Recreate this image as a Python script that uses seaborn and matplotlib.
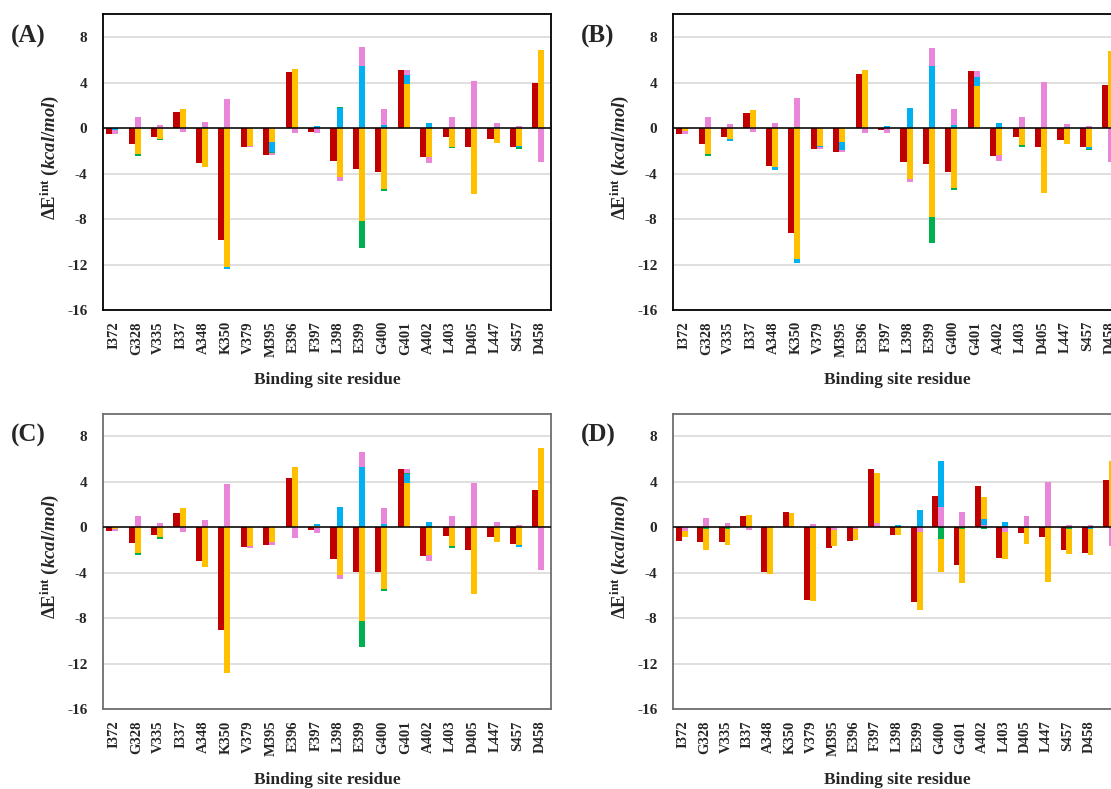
import numpy as np
import matplotlib
matplotlib.use("Agg")
import matplotlib.pyplot as plt
import seaborn as sns

# residues on the x axis
residues = ["I372", "G328", "V335", "I337", "A348", "K350", "V379", "M395", "E396", "F397",
            "L398", "E399", "G400", "G401", "A402", "L403", "D405", "L447", "S457", "D458"]

# panel A: total and components (kcal/mol)
a_total = [-0.5, -1.38, -0.76, 1.41, -3.05, -9.85, -1.7, -2.35, 4.93, -0.32,
           -2.93, -3.58, -3.9, 5.07, -2.58, -0.76, -1.7, -1.0, -1.7, 3.93]
a_yellow = [0, -2.26, -0.94, 1.67, -3.46, -12.26, -1.55, -1.2, 5.16, 0,
            -4.34, -8.15, -5.34, 3.84, -2.52, -1.64, -5.8, -1.35, -1.55, 6.89]
a_blue = [-0.2, 0, 0, 0, 0.1, -0.14, 0, -0.94, 0, 0.2,
          1.73, 5.43, 0.26, 0.82, 0.44, 0, 0, 0.1, -0.15, 0]
a_green = [0, -0.17, -0.14, 0, 0, 0, 0, -0.06, 0, 0,
           0.12, -2.41, -0.23, 0, 0, -0.15, 0, 0, -0.18, 0]
a_pink = [-0.3, 0.97, 0.26, -0.32, 0.43, 2.55, -0.15, -0.15, -0.41, -0.41,
          -0.35, 1.67, 1.41, 0.41, -0.53, 0.97, 4.13, 0.34, 0.18, -3.02]

# panel B
b_total = [-0.5, -1.38, -0.76, 1.32, -3.37, -9.24, -1.82, -2.08, 4.72, -0.2,
           -3.02, -3.2, -3.9, 5.01, -2.49, -0.76, -1.7, -1.03, -1.7, 3.78]
b_yellow = [-0.23, -2.26, -0.97, 1.58, -3.4, -11.52, -1.55, -1.2, 5.07, 0,
            -4.46, -7.83, -5.28, 3.72, -2.4, -1.52, -5.72, -1.44, -1.64, 6.74]
b_blue = [0, 0, -0.14, 0, -0.32, -0.33, -0.12, -0.7, 0, 0.18,
          1.76, 5.43, 0.29, 0.74, 0.47, 0, 0, 0.1, -0.18, 0]
b_green = [0, -0.17, 0, 0, 0, 0.1, 0, 0, 0, 0,
           0, -2.27, -0.2, 0.06, 0, -0.18, 0, 0, -0.14, 0]
b_pink = [-0.27, 0.97, 0.35, -0.32, 0.44, 2.51, -0.21, -0.18, -0.41, -0.41,
          -0.32, 1.57, 1.41, 0.49, -0.53, 0.97, 4.02, 0.25, 0.18, -3.02]

# panel C
c_total = [-0.32, -1.38, -0.67, 1.29, -2.96, -9.0, -1.76, -1.55, 4.37, -0.23,
           -2.79, -3.93, -3.93, 5.16, -2.49, -0.76, -1.99, -0.85, -1.47, 3.31]
c_yellow = [-0.1, -2.29, -0.88, 1.73, -3.46, -12.82, -1.61, -1.32, 5.34, 0.15,
            -4.22, -8.27, -5.37, 3.87, -2.43, -1.67, -5.89, -1.32, -1.58, 6.98]
c_blue = [0, 0, 0, 0, 0, 0, 0, 0, 0, 0.17,
          1.82, 5.34, 0.26, 0.79, 0.44, 0, 0, 0.08, -0.12, 0]
c_green = [0, -0.14, -0.15, 0, 0, 0, -0.06, 0, 0, 0,
           0, -2.2, -0.2, 0.09, 0, -0.15, 0, 0, 0, 0]
c_pink = [-0.22, 0.97, 0.35, -0.44, 0.62, 3.81, -0.18, -0.23, -0.94, -0.5,
          -0.3, 1.32, 1.41, 0.41, -0.53, 0.97, 3.93, 0.42, 0.23, -3.72]

# panel D (21 groups, last one has no visible label)
d_labels = residues + [""]
d_total = [-1.2, -1.29, -1.29, 0.97, -3.93, 1.32, -6.36, -1.82, -1.2, 5.16,
           -0.67, -6.6, 2.79, -3.28, 3.67, -2.73, -0.5, -0.85, -1.99, -2.23, 4.19]
d_yellow = [-0.56, -1.89, -1.45, 1.11, -4.08, 1.29, -6.43, -1.47, -1.0, 4.46,
            -0.67, -6.89, -2.9, -4.77, 1.94, -2.38, -1.38, -4.78, -2.22, -2.33, 5.87]
d_blue = [0, 0, 0, 0, 0, 0, -0.08, 0, 0, 0,
          0.18, 1.5, 4.11, 0, 0.53, 0.44, -0.06, 0, 0, -0.1, 0]
d_green = [0, -0.1, -0.1, 0, 0, 0, 0, 0, 0, 0,
           0, 0, -1.03, -0.1, -0.15, 0, 0, 0, -0.1, 0, 0]
d_pink = [-0.29, 0.79, 0.35, -0.23, 0.12, 0, 0.26, -0.2, -0.1, 0.35,
          0, -0.41, 1.76, 1.38, 0.23, -0.41, 0.97, 4.02, 0.18, 0.23, -1.61]

RED = "#C00000"
YELLOW = "#FFC000"
BLUE = "#00B0F0"
GREEN = "#00B050"
PINK = "#EA86DA"

sns.set_style("white")
plt.rcParams["font.family"] = ["Liberation Serif", "DejaVu Serif"]
plt.rcParams["font.weight"] = "bold"
plt.rcParams["axes.unicode_minus"] = False
plt.rcParams["mathtext.fontset"] = "custom"
plt.rcParams["mathtext.rm"] = "Liberation Serif:bold"
plt.rcParams["mathtext.it"] = "Liberation Serif:bold:italic"
plt.rcParams["mathtext.bf"] = "Liberation Serif:bold"

W, H = 1111, 789
fig = plt.figure(figsize=(W / 100, H / 100), dpi=100)


def draw_panel(left_px, top_px, letter, labels, total, parts, spine_col):
    ax = fig.add_axes([left_px / W, 1 - (top_px + 295.7) / H, 448.6 / W, 295.7 / H])
    n = len(labels)
    x = np.arange(n)
    ax.bar(x - 0.2, total, width=0.29, color=RED, zorder=2, linewidth=0)
    pos_bottom = np.zeros(n)
    neg_bottom = np.zeros(n)
    for vals, col in parts:
        v = np.array(vals, dtype=float)
        bottom = np.where(v >= 0, pos_bottom, neg_bottom)
        ax.bar(x + 0.06, v, width=0.27, bottom=bottom, color=col, zorder=2, linewidth=0)
        pos_bottom = pos_bottom + np.where(v > 0, v, 0)
        neg_bottom = neg_bottom + np.where(v < 0, v, 0)
    ax.axhline(0, color="black", lw=1.1, zorder=3)
    ax.set_xlim(-0.5, n - 0.5)
    ax.set_ylim(-16, 10)
    ax.set_yticks([8, 4, 0, -4, -8, -12, -16])
    ax.yaxis.grid(True, color="#D9D9D9", lw=1.2)
    ax.set_axisbelow(True)
    ax.set_xticks(x)
    ax.set_xticklabels(labels, rotation=90, fontsize=10.5, fontweight="bold")
    ax.tick_params(axis="x", length=0, pad=8)
    ax.tick_params(axis="y", length=0, pad=11, labelsize=11)
    for lab in ax.get_yticklabels():
        lab.set_fontweight("bold")
    for s in ax.spines.values():
        s.set_color(spine_col)
        s.set_linewidth(1.3)
    cx = (left_px + 224.3) / W
    fig.text(cx, 1 - (top_px + 366) / H, "Binding site residue", ha="center", va="center",
             fontsize=12.5, fontweight="bold")
    fig.text((left_px - 52.7) / W, 1 - (top_px + 143) / H,
             r"ΔE$^{\mathrm{int}}$ ($\mathit{kcal/mol}$)", rotation=90,
             ha="center", va="center", fontsize=13.5, fontweight="bold")
    fig.text((left_px - 74.7) / W, 1 - (top_px + 22) / H, letter, ha="center", va="center",
             fontsize=18, fontweight="bold")
    return ax


order_std = lambda y, b, g, p: [(y, YELLOW), (b, BLUE), (g, GREEN), (p, PINK)]

draw_panel(102.7, 14.3, "(A)", residues, a_total, order_std(a_yellow, a_blue, a_green, a_pink), "black")
draw_panel(672.7, 14.3, "(B)", residues, b_total, order_std(b_yellow, b_blue, b_green, b_pink), "black")
draw_panel(102.7, 413.7, "(C)", residues, c_total, order_std(c_yellow, c_blue, c_green, c_pink), "#6E6E6E")
draw_panel(672.7, 413.7, "(D)", d_labels, d_total,
           [(d_pink, PINK), (d_green, GREEN), (d_blue, BLUE), (d_yellow, YELLOW)], "#6E6E6E")

fig.savefig("out.png", dpi=100)
